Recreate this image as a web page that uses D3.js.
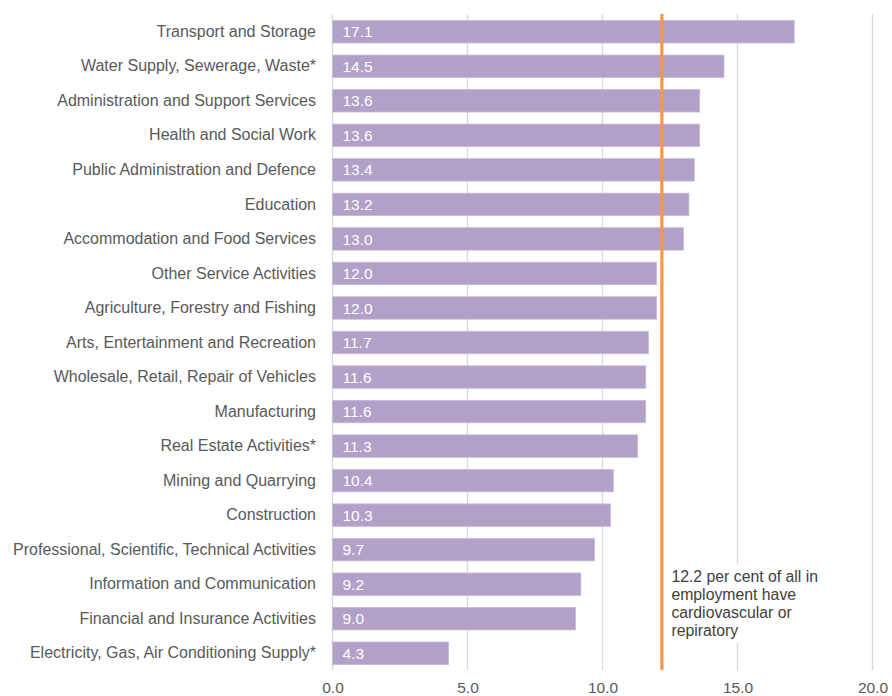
<!DOCTYPE html>
<html><head><meta charset="utf-8">
<script src="https://cdn.jsdelivr.net/npm/d3@7"></script>
<style>body{margin:0;background:#fff;}svg{display:block;font-family:"Liberation Sans",Arial,sans-serif;}</style>
</head><body><svg id="c" width="892" height="696"></svg>
<script>
const categories = ["Transport and Storage","Water Supply, Sewerage, Waste*","Administration and Support Services","Health and Social Work","Public Administration and Defence","Education","Accommodation and Food Services","Other Service Activities","Agriculture, Forestry and Fishing","Arts, Entertainment and Recreation","Wholesale, Retail, Repair of Vehicles","Manufacturing","Real Estate Activities*","Mining and Quarrying","Construction","Professional, Scientific, Technical Activities","Information and Communication","Financial and Insurance Activities","Electricity, Gas, Air Conditioning Supply*"];
const values = [17.1,14.5,13.6,13.6,13.4,13.2,13.0,12.0,12.0,11.7,11.6,11.6,11.3,10.4,10.3,9.7,9.2,9.0,4.3];
const xTicks = [0,5,10,15,20];
const referenceValue = 12.2;
const annotationLines = ["12.2 per cent of all in","employment have","cardiovascular or","repiratory"];

const svg = d3.select("#c");
const x = d3.scaleLinear().domain([0,20]).range([332.5,872.5]);
const y = d3.scaleBand().domain(categories).range([14.5,670.5]).paddingInner(0.35).paddingOuter(0.175);

// gridlines
svg.append("g").selectAll("line").data(xTicks).join("line")
  .attr("x1",d=>x(d)).attr("x2",d=>x(d)).attr("y1",14).attr("y2",670)
  .attr("stroke","#d9d9d9").attr("stroke-width",1.3);

// bars
svg.append("g").selectAll("rect").data(values).join("rect")
  .attr("x",x(0)).attr("y",(d,i)=>y(categories[i]))
  .attr("width",d=>x(d)-x(0)).attr("height",y.bandwidth())
  .attr("fill","#b1a1c9").attr("stroke","#c7bbd9").attr("stroke-width",0.8);

// value labels
svg.append("g").selectAll("text").data(values).join("text")
  .attr("x",x(0)+10).attr("y",(d,i)=>y(categories[i])+y.bandwidth()/2)
  .attr("dy","0.36em").attr("fill","#ffffff").attr("font-size",15.5)
  .text(d=>d.toFixed(1));

// category labels
const yAxis = d3.axisLeft(y).tickSize(0).tickPadding(16.5);
const ga = svg.append("g").attr("transform",`translate(${x(0)},0)`).call(yAxis);
ga.select(".domain").remove();
ga.selectAll("text").attr("font-size",16).attr("fill","#595959").attr("font-family","Liberation Sans, Arial, sans-serif");

// x axis labels
const xAxis = d3.axisBottom(x).tickValues(xTicks).tickSize(0).tickPadding(0).tickFormat(d3.format(".1f"));
const gx = svg.append("g").attr("transform","translate(0,682)").call(xAxis);
gx.select(".domain").remove();
gx.selectAll("text").attr("font-size",15.5).attr("fill","#595959").attr("font-family","Liberation Sans, Arial, sans-serif");

// annotation background
svg.append("rect").attr("x",x(referenceValue)+4).attr("y",564).attr("width",160).attr("height",79).attr("fill","#fff");
// reference line
svg.append("line").attr("x1",x(referenceValue)).attr("x2",x(referenceValue)).attr("y1",14).attr("y2",670)
  .attr("stroke","#f79646").attr("stroke-width",3.2);
svg.append("g").selectAll("text").data(annotationLines).join("text")
  .attr("x",x(referenceValue)+9.5).attr("y",(d,i)=>581.5+i*18)
  .attr("font-size",15.8).attr("fill","#404040").text(d=>d);
</script></body></html>
